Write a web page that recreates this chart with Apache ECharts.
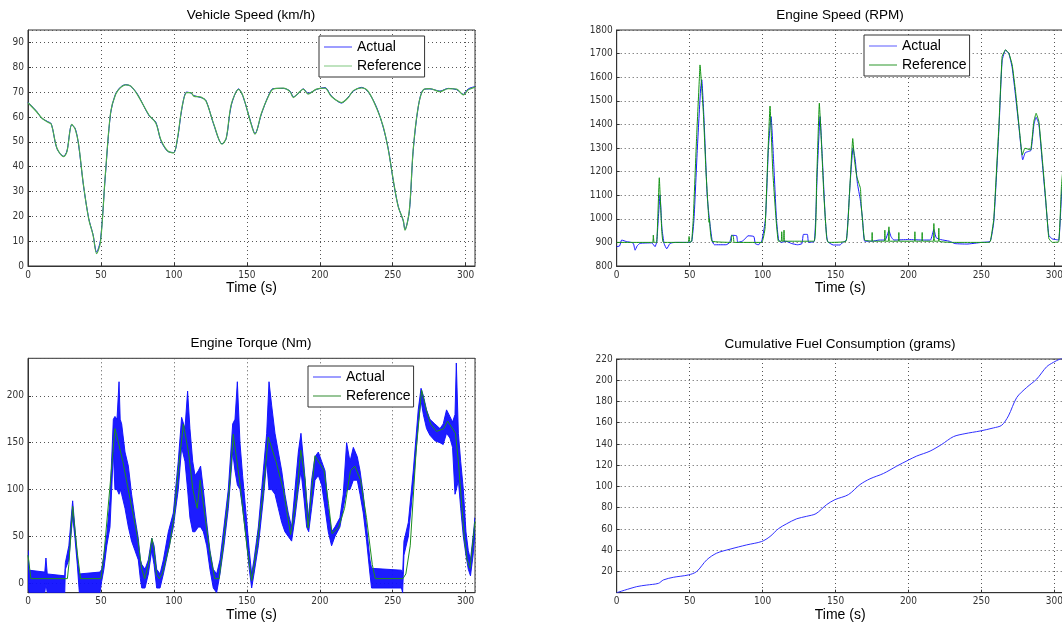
<!DOCTYPE html>
<html><head><meta charset="utf-8">
<script src="https://cdn.jsdelivr.net/npm/echarts@6/dist/echarts.min.js"></script>
<style>html,body{margin:0;padding:0;background:#fff}#c{width:1062px;height:623px}</style>
</head><body><div id="c"></div>
<script>
// ---------------- data ----------------
const titles = ['Vehicle Speed (km/h)', 'Engine Speed (RPM)', 'Engine Torque (Nm)', 'Cumulative Fuel Consumption (grams)'];
const xName = 'Time (s)';
const seriesNames = ['Actual', 'Reference'];

// Vehicle speed (km/h)
const spdT = [0,6,9.4,13.3,16,19.8,24.4,26.7,30,32.4,34.7,38,41.6,44.6,47,49.7,53,56.6,60,63.4,66.9,70.3,75,83,87.6,91,95.6,99.8,102.5,105.5,108.7,111.7,113.6,118.6,122,127.4,133,135.9,139.3,144.4,147.4,153,155.6,160,164.7,168,175,179.6,181.9,185.3,188.7,192,197.8,203.6,208,215,219.5,223,228.7,233.3,239,243.5,247,250.4,253.8,257.2,258.4,261.4,264,267.5,271,275.5,282.4,288,293.8,298.4,301.8,306.4];
const spdRef = [65.7,62,59.6,58,57,47.5,44,46,57,55,49,32.7,19,12.4,5,9.7,36.7,61.7,69,71.8,72.9,72.5,69,60.7,57.6,50.9,46.4,45.5,51.6,63.7,69.8,69.8,68.4,68,66.4,57,49,51.6,65,71.1,68.4,57,53.1,61.5,68.2,71.2,71.6,70.2,67.8,69.6,71.2,69.2,71.2,71.6,68.2,65.8,67.8,70.6,71.7,70.2,63.5,56.1,46.7,34.6,23.8,18.4,14.4,22.5,46.7,64.2,70.9,71.4,70.2,71.4,71.2,68.9,70.9,72];
const spdAct = [65.9,62.2,59.5,58.2,57.2,47.3,44.2,46.3,56.8,55.3,48.7,32.5,19.2,12.6,5.6,10.5,36.2,61.3,69.2,72,73,72.4,69.2,60.5,57.9,50.6,46.2,45.7,51.2,63.4,70,69.6,68.6,67.8,66.6,56.8,49.2,51.3,64.6,71.3,68.2,57.3,53.3,61.2,68.4,71.4,71.5,70.4,68.1,69.4,71.3,69.5,71.1,71.8,68.4,65.6,68,70.4,71.9,70,63.8,55.8,47,34.2,24,18.2,14.8,22,46.2,64,71,71.3,70.4,71.5,71,69.1,71.3,72.2];

// Engine speed (RPM)
const rpmRefT = [0,24.6,25.1,25.6,27.4,29.2,30.5,32,49,49.6,50.2,51.4,52.5,54.8,56.7,57.1,59.4,61.2,62.8,63.3,63.6,64,65.3,78.4,78.8,80,80.5,99.4,101.7,103.5,105.1,107,109.2,110.8,112.8,113.1,113.5,114.4,114.7,115.2,135.3,137,138.9,140.5,142,143.9,145,157.2,159.5,161.8,163,164.5,166,167.1,167.6,169.9,174.8,175.1,175.4,183.5,183.8,184.1,186.3,186.6,186.9,193.1,193.4,193.7,204.1,204.4,204.7,209.1,209.4,209.7,217.1,217.4,217.8,220.5,220.8,221.1,230,255,256.2,258.5,262,264.2,266.5,268.8,271.1,273.4,275.7,278,279.8,283.7,285.9,287.5,289.4,291.7,294,296.2,298.5,303,304.9,306.4];
const rpmRef = [900,900,931,900,900,1174,1000,900,900,925,900,905,1000,1350,1600,1652,1450,1200,1030,985,1000,960,905,900,930,925,900,900,960,1250,1478,1200,1000,905,905,945,905,905,952,905,905,1150,1490,1300,1100,920,900,905,1100,1340,1250,1180,1150,1129,1060,910,905,942,905,905,952,905,905,966,905,905,942,905,905,945,905,905,942,905,905,980,905,905,960,905,900,900,905,1000,1398,1688,1716,1702,1652,1539,1398,1270,1299,1292,1412,1447,1412,1256,1087,917,900,903,1143,1250];
const rpmActT = [0,2,3.4,6.9,10,11.5,12.6,14,16,24,26.3,27.5,28.5,29.7,31,32.5,34.3,36.6,40,50,51.5,53,55.3,57.5,58.3,60,62,63.5,65.5,67,75,77.5,78.8,82.2,83,86,88,90,94,95,97,99.4,102,104,105.8,107.5,109.5,111,113,116,120,124,127,128,130.7,131.5,135.5,137.5,139.4,141,143,144.5,148.5,153,155,157.5,160,162,163.5,165,167,168.5,170,175,180,184,186.6,188,190,200,210,215,217.4,219,222,228,232,240,250,256,258.5,262,264.2,266.5,268.8,271.1,273.4,275.7,277.5,278.3,280,282,284,286,287.5,289.4,291.7,294,296.2,298.5,301,303,304.9,306.4];
const rpmAct = [882,885,910,903,900,895,867,885,896,898,882,905,1000,1101,960,895,873,896,900,900,905,1000,1300,1550,1589,1400,1100,1000,905,890,890,900,930,928,900,905,915,928,925,895,890,905,1000,1300,1433,1250,1000,910,900,905,895,890,895,934,934,900,905,1200,1433,1250,1000,905,889,889,900,910,1150,1299,1250,1150,1080,1000,905,905,910,910,950,925,910,912,910,910,955,920,912,905,895,893,900,905,990,1380,1670,1715,1700,1640,1520,1390,1280,1250,1280,1285,1290,1400,1430,1400,1240,1080,930,915,912,910,1100,1200];

// Engine torque (Nm): reference line, and the band (min / max) covered by the noisy actual signal
const trqRefT = [0,2,27,28,30.6,32,34,36,50,52,56,59.6,62,65,70,75,78,80,82.5,85,86.5,88,90,92,97,100,103,106.5,110,113,116,118,121,125,128,131,133,138,140.7,145,150,153.3,157,162,164.7,170,175,180,184,187,190,192,196.7,203,206,208.4,213,217,221,224,228,232,236,238,257,259,262,266,269.8,273,276,280,285,287.6,293,295,297,299,301,303,306.4];
const trqRef = [30,5,5,20,82,60,30,5,5,30,100,165,150,130,90,50,15,5,20,48,35,10,5,10,40,70,120,170,140,100,80,110,75,30,5,5,30,100,159,110,40,3,40,110,156,130,100,52,90,142,110,59,136,120,85,53,60,80,120,125,110,70,20,5,5,10,40,140,206,185,170,162,165,173,160,130,90,50,25,16,66];
const trqActT = [0,0.8,11.5,12.3,13.2,25.2,25.6,28,30.6,32.2,33.8,35.2,49.3,50.5,52,54,56.2,58.5,59.6,61,62.4,63.2,64.2,66.5,68.8,71,73.3,75.6,77,78,80.2,82.5,84.8,86.4,88.2,90.5,92.8,96.2,99.6,103,105.3,107.6,109.4,111,112.9,114.5,116.7,118.3,120.2,122.5,124.7,127,129.3,131.6,134.3,137.3,140.3,141.9,143.5,145.3,147.1,149.4,151.7,153.3,154.9,157.9,161.3,163.6,165.2,167,169.3,171.6,173.9,176.1,178.4,180.7,183,185.3,187.1,189.2,191,192.4,194.4,196.7,199,201.3,203.6,205.8,208.1,210.4,213.8,216.1,218.4,220.7,223,225.7,227.6,229.8,232.1,234.4,235.5,256,256.8,257.7,260.7,264.1,267.5,269.4,271,273.2,275.5,278.9,282.4,284.6,286.9,289.2,291,292.7,293.6,295,296.6,298.4,300.2,301.8,303.3,305.1,306.4];
const trqActLo = [0,-10,-10,0,-10,-10,15,25,72,48,20,-10,-10,2,15,40,60,140,100,100,95,100,95,80,60,45,35,25,5,-5,-5,10,35,20,-5,-5,10,35,60,100,145,130,100,70,55,55,60,60,55,40,15,-5,-10,10,40,80,140,120,105,100,80,50,15,-5,10,40,90,130,100,100,95,80,65,55,50,45,70,100,120,90,60,55,80,110,115,105,80,55,40,50,60,80,100,100,110,110,95,75,45,10,-5,-5,-10,30,50,105,170,195,180,165,158,152,150,148,160,155,145,95,100,110,80,50,30,15,8,30,55];
const trqActHi = [35,14,12,27,10,8,22,40,88,58,28,10,12,15,30,52,90,175,178,175,215,175,170,140,125,95,70,48,25,20,15,25,48,40,15,10,25,55,75,130,177,165,205,165,130,115,120,125,100,65,35,15,10,25,60,100,170,175,215,150,115,75,35,10,25,60,120,160,215,190,160,140,120,95,75,60,100,140,160,125,90,70,110,135,140,130,120,80,55,60,70,95,150,130,145,135,120,95,60,25,16,14,10,45,65,120,185,208,200,185,175,170,165,170,185,178,172,180,235,160,130,100,55,35,25,50,70];

// Cumulative fuel (grams)
const fuelT = [0,13.7,20.6,28.6,32,38.8,49.1,54.8,61.7,68.5,77.7,89.1,99.4,105.1,110.8,116.5,123.4,130.2,136.6,143.9,149.6,158.8,166.8,173.6,182.8,191.9,199.9,205.6,214.8,222.8,230.8,238.7,249,258.2,263.9,268.5,274.2,281,287.9,294.7,299.3,303.9,306.4];
const fuel = [0,5.7,7.2,8.8,12,14.5,16.7,19.9,30.9,37.2,41,45,48.2,52.9,60.2,64.9,69.6,71.9,74.4,82.9,87.6,92.3,101.8,107.2,112.2,119.1,124.8,128.6,133.3,139.6,146.9,149.7,152.2,155.1,157.6,166.4,183.7,193.2,201.1,212.7,216.8,220,221];

// ---------------- chart ----------------
const zip = (a, b) => a.map((t, i) => [t, b[i]]);
const F = "'Liberation Sans', Arial, sans-serif";
const FN = "'Liberation Sans Narrow', 'DejaVu Sans Condensed', 'Liberation Sans', sans-serif";
const BLUE = '#0000ff';
const X_MAX = 306.4;
const grids = [
  {left: 28, top: 30, width: 447, height: 236},
  {left: 616.7, top: 30, width: 447, height: 236},
  {left: 28, top: 358.3, width: 447, height: 234.4},
  {left: 616.7, top: 359, width: 447, height: 233.7}
].map(g => Object.assign({show: true, borderColor: '#333', borderWidth: 1, backgroundColor: 'transparent', containLabel: false, outerBoundsMode: 'none'}, g));

const splitStyle = {show: true, lineStyle: {color: '#555', type: [1, 3], width: 1}};
const tickStyle = {show: true, inside: true, length: 3, lineStyle: {color: '#333'}};
const plain = v => String(v);

function xAx(gi) {
  return {type: 'value', gridIndex: gi, min: 0, max: X_MAX, interval: 50,
    name: xName, nameLocation: 'middle', nameGap: 15,
    nameTextStyle: {fontFamily: F, fontSize: 14, color: '#000'},
    axisLine: {show: true, onZero: false, lineStyle: {color: '#333'}},
    axisTick: tickStyle,
    axisLabel: {fontFamily: FN, fontSize: 10, color: '#333', margin: 4, showMaxLabel: false, hideOverlap: false, formatter: plain},
    splitLine: splitStyle};
}
function yAx(gi, extra, lab) {
  return Object.assign({type: 'value', gridIndex: gi,
    axisLine: {show: true, onZero: false, lineStyle: {color: '#333'}},
    axisTick: tickStyle,
    axisLabel: Object.assign({fontFamily: FN, fontSize: 10, color: '#333', margin: 4, hideOverlap: false, formatter: plain}, lab || {}),
    splitLine: splitStyle}, extra);
}
function title(text, x, y) {
  return {text: text, left: x, top: y, textAlign: 'center', padding: 0,
    textStyle: {fontFamily: F, fontSize: 13.5, fontWeight: 'normal', color: '#000'}};
}
function legend(x, y, actColor, refColor) {
  return {orient: 'vertical', left: x, top: y, padding: [3, 3, 3, 5], itemGap: 3,
    itemWidth: 28, itemHeight: 1, icon: 'rect', selectedMode: false,
    borderColor: '#333', borderWidth: 1, backgroundColor: '#fff', borderRadius: 0,
    textStyle: {fontFamily: F, fontSize: 14, color: '#000', lineHeight: 16},
    data: [{name: seriesNames[0], itemStyle: {color: actColor}},
           {name: seriesNames[1], itemStyle: {color: refColor}}]};
}
function line(name, gi, data, color, w, smooth) {
  return {type: 'line', name: name, xAxisIndex: gi, yAxisIndex: gi, data: data,
    symbol: 'none', showSymbol: false, smooth: smooth || false,
    lineStyle: {width: w || 1, color: color}, itemStyle: {color: color}};
}

const option = {
  animation: false,
  backgroundColor: '#fff',
  title: [title(titles[0], 251, 8.5), title(titles[1], 840, 8.5), title(titles[2], 251, 336.5), title(titles[3], 840, 337)],
  grid: grids,
  xAxis: [xAx(0), xAx(1), xAx(2), xAx(3)],
  yAxis: [
    yAx(0, {min: 0, max: 95, interval: 10}, {showMaxLabel: false}),
    yAx(1, {min: 800, max: 1800, interval: 100}),
    yAx(2, {min: -10, max: 240, splitNumber: 5}, {showMinLabel: false, showMaxLabel: false}),
    yAx(3, {min: 0, max: 220, interval: 20}, {showMinLabel: false})
  ],
  legend: [legend(319, 36, '#3b3bff', '#7fc77f'), legend(864, 35, '#5a5aff', '#2a962a'), legend(308, 366, '#3a3aff', '#2e8b2e')],
  series: [
    line(seriesNames[0], 0, zip(spdT, spdAct), BLUE, 1, 0.3),
    line(seriesNames[1], 0, zip(spdT, spdRef), '#4aab4a', 1.2, 0.3),
    line(seriesNames[0], 1, zip(rpmActT, rpmAct), '#1a1aff', 1, 0.15),
    line(seriesNames[1], 1, zip(rpmRefT, rpmRef), '#139413', 1, 0.1),
    {
      type: 'custom', name: seriesNames[0], xAxisIndex: 2, yAxisIndex: 2,
      data: [[trqActT[0], trqActLo[0]]],
      itemStyle: {color: BLUE},
      renderItem: function (params, api) {
        const pts = [];
        for (let i = 0; i < trqActT.length; i++) pts.push(api.coord([trqActT[i], trqActHi[i]]));
        for (let i = trqActT.length - 1; i >= 0; i--) pts.push(api.coord([trqActT[i], trqActLo[i]]));
        const cs = params.coordSys;
        return {type: 'polygon', shape: {points: pts},
          style: {fill: '#1010ff', stroke: '#1010ff', lineWidth: 1, opacity: 0.95},
          clipPath: {type: 'rect', shape: {x: cs.x, y: cs.y, width: cs.width, height: cs.height}}};
      }
    },
    line(seriesNames[1], 2, zip(trqRefT, trqRef), '#1e8f1e'),
    line('Fuel', 3, zip(fuelT, fuel), '#3030ff', 1, 0.3)
  ]
};
const chart = echarts.init(document.getElementById('c'), null, {renderer: 'canvas'});
chart.setOption(option);
</script></body></html>
